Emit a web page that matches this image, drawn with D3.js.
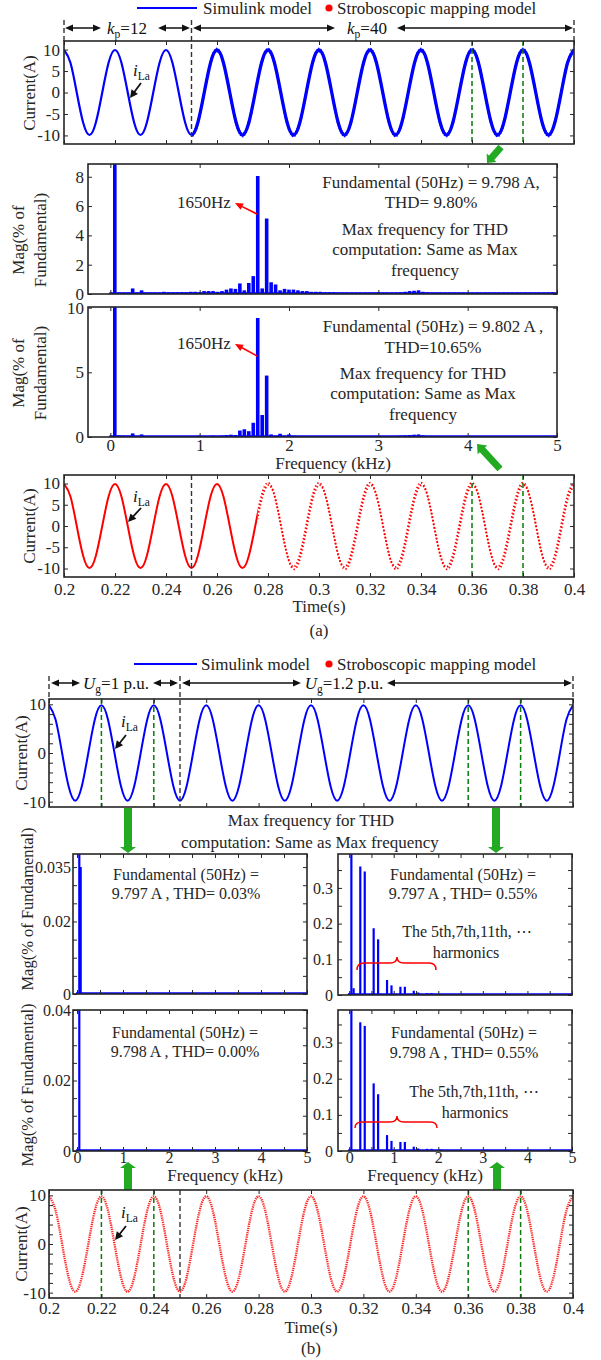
<!DOCTYPE html>
<html><head><meta charset="utf-8">
<script src="https://cdn.jsdelivr.net/npm/d3@7"></script>
<style>body{margin:0;background:#fff}svg{display:block}</style>
</head><body>
<script>
// ================= DATA =================
const timeTicks = [0.2,0.22,0.24,0.26,0.28,0.3,0.32,0.34,0.36,0.38,0.4];
const waveTime = [0.2,0.2025,0.205,0.2075,0.21,0.2125,0.215,0.2175,0.22,0.2225,0.225,0.2275,0.23,0.2325,0.235,0.2375,0.24,0.2425,0.245,0.2475,0.25,0.2525,0.255,0.2575,0.26,0.2625,0.265,0.2675,0.27,0.2725,0.275,0.2775,0.28,0.2825,0.285,0.2875,0.29,0.2925,0.295,0.2975,0.3,0.3025,0.305,0.3075,0.31,0.3125,0.315,0.3175,0.32,0.3225,0.325,0.3275,0.33,0.3325,0.335,0.3375,0.34,0.3425,0.345,0.3475,0.35,0.3525,0.355,0.3575,0.36,0.3625,0.365,0.3675,0.37,0.3725,0.375,0.3775,0.38,0.3825,0.385,0.3875,0.39,0.3925,0.395,0.3975,0.4];
const currentA = [9.9,7.0,0,-7.0,-9.9,-7.0,0,7.0, 9.9,7.0,0,-7.0,-9.9,-7.0,0,7.0, 9.9,7.0,0,-7.0,-9.9,-7.0,0,7.0, 9.9,7.0,0,-7.0,-9.9,-7.0,0,7.0, 9.9,7.0,0,-7.0,-9.9,-7.0,0,7.0, 9.9,7.0,0,-7.0,-9.9,-7.0,0,7.0, 9.9,7.0,0,-7.0,-9.9,-7.0,0,7.0, 9.9,7.0,0,-7.0,-9.9,-7.0,0,7.0, 9.9,7.0,0,-7.0,-9.9,-7.0,0,7.0, 9.9,7.0,0,-7.0,-9.9,-7.0,0,7.0, 9.9];
const currentB = [9.8,6.9,0,-6.9,-9.8,-6.9,0,6.9, 9.8,6.9,0,-6.9,-9.8,-6.9,0,6.9, 9.8,6.9,0,-6.9,-9.8,-6.9,0,6.9, 9.8,6.9,0,-6.9,-9.8,-6.9,0,6.9, 9.8,6.9,0,-6.9,-9.8,-6.9,0,6.9, 9.8,6.9,0,-6.9,-9.8,-6.9,0,6.9, 9.8,6.9,0,-6.9,-9.8,-6.9,0,6.9, 9.8,6.9,0,-6.9,-9.8,-6.9,0,6.9, 9.8,6.9,0,-6.9,-9.8,-6.9,0,6.9, 9.8,6.9,0,-6.9,-9.8,-6.9,0,6.9, 9.8];

// spectra (a): magnitude (% of fundamental) for bins 0,50,100,...,5000 Hz
const binStepHz = 50;
const specA1 = [
 0.05,100,0.10,0.10,0.10,0.38,0.10,0.25,0.10,0.10,
 0.10,0.10,0.15,0.12,0.12,0.12,0.12,0.12,0.15,0.15,
 0.12,0.20,0.20,0.20,0.15,0.20,0.30,0.38,0.35,0.72,
 0.25,0.75,1.22,8.05,0.38,5.15,0.80,0.65,0.25,0.35,
 0.30,0.30,0.25,0.20,0.20,0.15,0.15,0.15,0.12,0.12,
 0.12,0.10,0.10,0.10,0.10,0.10,0.10,0.10,0.10,0.10,
 0.12,0.10,0.10,0.10,0.10,0.12,0.15,0.20,0.22,0.25,
 0.15,0.12,0.10,0.10,0.10,0.10,0.10,0.10,0.10,0.10,
 0.10,0.10,0.10,0.10,0.10,0.10,0.10,0.10,0.10,0.10,
 0.10,0.10,0.10,0.10,0.10,0.10,0.10,0.10,0.10,0.12,0.10];
const specA2 = [
 0.03,100,0.12,0.10,0.10,0.28,0.08,0.20,0.05,0.05,
 0.05,0.05,0.05,0.05,0.05,0.05,0.05,0.05,0.05,0.05,
 0.10,0.05,0.05,0.10,0.05,0.10,0.15,0.18,0.15,0.50,
 0.60,0.45,1.10,9.20,1.70,4.75,0.20,0.10,0.25,0.10,
 0.20,0.10,0.08,0.06,0.06,0.06,0.06,0.06,0.06,0.06,
 0.06,0.06,0.06,0.06,0.06,0.06,0.06,0.06,0.06,0.06,
 0.08,0.06,0.06,0.06,0.08,0.10,0.12,0.15,0.18,0.20,
 0.12,0.08,0.06,0.06,0.06,0.06,0.06,0.06,0.06,0.06,
 0.06,0.06,0.06,0.06,0.06,0.06,0.06,0.06,0.06,0.06,
 0.06,0.06,0.06,0.06,0.06,0.06,0.06,0.06,0.06,0.08,0.06];

// spectra (b): sparse harmonic lines
const specBLeftUpFreq = [50, 80];
const specBLeftUpMag  = [100, 0.035];
const specBLeftLoFreq = [50];
const specBLeftLoMag  = [100];
const specBRightUpFreq = [0,50,100,250,350,550,650,850,950,1150,1250,1450,1550,1750,1850,2050,2150];
const specBRightUpMag  = [0.005,100,0.019,0.360,0.346,0.187,0.156,0.042,0.027,0.023,0.023,0.012,0.007,0.005,0.005,0.003,0.002];
const specBRightLoFreq = [50,250,350,550,650,850,950,1150,1250,1450,1550,1750,1850,2050,2150];
const specBRightLoMag  = [100,0.356,0.346,0.187,0.157,0.044,0.028,0.025,0.025,0.012,0.007,0.006,0.006,0.004,0.002];

const freqTicks = [0,1,2,3,4,5];
const freqTicksHalf = [0,0.5,1,1.5,2,2.5,3,3.5,4,4.5,5];

// ================= DRAWING =================
const FONT = "'Liberation Serif','Times New Roman',serif";
const INK = '#262626';
const BLUE = '#0000ff', RED = '#ff0000', DGREEN = '#0a7a0a', FGREEN = '#22aa22';
const svg = d3.select('body').append('svg').attr('width',601).attr('height',1360)
  .attr('font-family',FONT);
svg.append('rect').attr('width',601).attr('height',1360).attr('fill','#fff');
let clipN = 0;

function panel(o){
  const x = d3.scaleLinear().domain(o.xdom).range([o.x0,o.x1]);
  const y = d3.scaleLinear().domain(o.ydom).range([o.y1,o.y0]);
  const id = 'clip'+(clipN++);
  svg.append('clipPath').attr('id',id).append('rect')
    .attr('x',o.x0).attr('y',o.y0).attr('width',o.x1-o.x0).attr('height',o.y1-o.y0);
  const plot = svg.append('g').attr('clip-path',`url(#${id})`);
  return {x,y,plot,o};
}
function axes(p){
  const {x,y,o} = p;
  const g = svg.append('g');
  const mk = (axis,tr)=>{
    const a = g.append('g').attr('transform',tr).call(axis);
    a.select('.domain').remove();
    a.attr('font-family',FONT).attr('font-size',o.fs||17).attr('color',INK);
    a.selectAll('line').attr('stroke-width',1);
    return a;
  };
  mk(d3.axisBottom(x).tickValues(o.xticks).tickSize(-4).tickPadding(o.xpad||4)
      .tickFormat(d=> o.xlab ? o.xfmt(d) : ''), `translate(0,${o.y1})`);
  mk(d3.axisTop(x).tickValues(o.xticks).tickSize(-4).tickFormat(()=>''), `translate(0,${o.y0})`);
  mk(d3.axisLeft(y).tickValues(o.yticks).tickSize(-4).tickPadding(o.ypad||4)
      .tickFormat(d=> o.ylab.includes(d) ? String(d) : ''), `translate(${o.x0},0)`);
  mk(d3.axisRight(y).tickValues(o.yticks).tickSize(-4).tickFormat(()=>''), `translate(${o.x1},0)`);
  g.append('rect').attr('x',o.x0).attr('y',o.y0).attr('width',o.x1-o.x0).attr('height',o.y1-o.y0)
    .attr('fill','none').attr('stroke',INK).attr('stroke-width',1.6);
}
const tfmt = d => String(+d.toFixed(2));

function txt(x,y,s,o={}){
  return svg.append('text').attr('x',x).attr('y',y).attr('font-size',o.fs||17)
    .attr('text-anchor',o.anchor||'middle').attr('fill',o.fill||INK).text(s);
}
function rtxt(x,y,s,fs){ // rotated -90, centred at (x,y)
  return svg.append('text').attr('transform',`translate(${x},${y}) rotate(-90)`)
    .attr('dy','0.35em').attr('font-size',fs||17).attr('text-anchor','middle').attr('fill',INK).text(s);
}
function subText(x,y,main,sub,rest,fs,anchor){
  const t = svg.append('text').attr('x',x).attr('y',y).attr('font-size',fs)
    .attr('text-anchor',anchor||'middle').attr('fill','#111');
  t.append('tspan').attr('font-style','italic').text(main);
  t.append('tspan').attr('font-size',fs*0.68).attr('dy',fs*0.25).text(sub);
  if(rest) t.append('tspan').attr('dy',-fs*0.25).text(rest);
  return t;
}
function head(x1,y1,x2,y2,len,hw,color){
  const L=Math.hypot(x2-x1,y2-y1), ux=(x2-x1)/L, uy=(y2-y1)/L, nx=-uy, ny=ux;
  const bx=x2-ux*len, by=y2-uy*len;
  svg.append('polygon').attr('points',[[x2,y2],[bx+nx*hw,by+ny*hw],[bx-nx*hw,by-ny*hw]].map(p=>p.join(',')).join(' '))
    .attr('fill',color);
}
function arrow(x1,y1,x2,y2,o={}){
  const c=o.color||'#111', len=o.len||8, hw=o.hw||3.5;
  const L=Math.hypot(x2-x1,y2-y1), ux=(x2-x1)/L, uy=(y2-y1)/L;
  const sx = o.both ? x1+ux*len*0.8 : x1, sy = o.both ? y1+uy*len*0.8 : y1;
  svg.append('line').attr('x1',sx).attr('y1',sy).attr('x2',x2-ux*len*0.8).attr('y2',y2-uy*len*0.8)
    .attr('stroke',c).attr('stroke-width',o.w||1.5);
  head(x1,y1,x2,y2,len,hw,c);
  if(o.both) head(x2,y2,x1,y1,len,hw,c);
}
function fatArrow(x1,y1,x2,y2,sw,hw,hl){
  const L=Math.hypot(x2-x1,y2-y1), ux=(x2-x1)/L, uy=(y2-y1)/L, nx=-uy, ny=ux;
  const bx=x2-ux*hl, by=y2-uy*hl;
  const pts=[[x1+nx*sw/2,y1+ny*sw/2],[bx+nx*sw/2,by+ny*sw/2],[bx+nx*hw/2,by+ny*hw/2],[x2,y2],
             [bx-nx*hw/2,by-ny*hw/2],[bx-nx*sw/2,by-ny*sw/2],[x1-nx*sw/2,y1-ny*sw/2]];
  svg.append('polygon').attr('points',pts.map(p=>p.join(',')).join(' ')).attr('fill',FGREEN);
}
function vdash(x,y1,y2,color,w,da){
  svg.append('line').attr('x1',x).attr('x2',x).attr('y1',y1).attr('y2',y2)
    .attr('stroke',color).attr('stroke-width',w||1.4).attr('stroke-dasharray',da||'5,3');
}
function legend(y, lineX0, lineX1, textX){
  svg.append('line').attr('x1',lineX0).attr('x2',lineX1).attr('y1',y).attr('y2',y).attr('stroke',BLUE).attr('stroke-width',2);
  txt(textX,y+6,'Simulink model',{anchor:'start',fill:'#222'});
  svg.append('circle').attr('cx',329).attr('cy',y).attr('r',3.6).attr('fill',RED);
  txt(337,y+6,'Stroboscopic mapping model',{anchor:'start',fill:'#222'});
}
function wavePts(vals){ return waveTime.map((t,i)=>[t,vals[i]]); }
function waveLine(p, vals, t0, t1, style){
  const id='clip'+(clipN++);
  svg.append('clipPath').attr('id',id).append('rect')
    .attr('x',p.x(t0)).attr('y',p.o.y0).attr('width',p.x(t1)-p.x(t0)).attr('height',p.o.y1-p.o.y0);
  const line=d3.line().x(d=>p.x(d[0])).y(d=>p.y(d[1])).curve(d3.curveNatural);
  const g=p.plot.append('g').attr('clip-path',`url(#${id})`);
  return g.append('path').datum(wavePts(vals)).attr('d',line).attr('fill','none')
    .attr('stroke',style.color).attr('stroke-width',style.w).attr('stroke-dasharray',style.da||null)
    .attr('stroke-dashoffset',style.off||0).attr('transform',style.tr||null).attr('stroke-linecap',style.cap||'butt')
    .attr('stroke-opacity',style.op||1);
}
function specBars(p, freqsHz, mags, w){
  p.plot.selectAll(null).data(freqsHz.map((f,i)=>[f/1000,mags[i]])).join('rect')
    .attr('x',d=>p.x(d[0])-w/2).attr('width',w)
    .attr('y',d=>p.y(d[1])).attr('height',d=>Math.max(0,p.y(0)-p.y(d[1])))
    .attr('fill',BLUE);
}
function baseLine(p){
  p.plot.append('line').attr('x1',p.x(0)-1).attr('x2',p.x(5)).attr('y1',p.y(0)-0.8).attr('y2',p.y(0)-0.8)
    .attr('stroke',BLUE).attr('stroke-width',2);
}

// ================= (a) =================
legend(8,137,197,203);
vdash(64,20,41,'#333'); vdash(574,20,41,'#333');
arrow(65,28,101,28,{both:true}); arrow(158,28,190,28,{both:true});
subText(127,34,'k','p','=12',17);
arrow(193,28,335,28,{both:true}); arrow(397,28,573,28,{both:true});
subText(367,34,'k','p','=40',17);

// top waveform (a)
const pA1 = panel({x0:64,x1:574,y0:41,y1:144,xdom:[0.2,0.4],ydom:[-12,12]});
waveLine(pA1,currentA,0.2,0.25,{color:BLUE,w:2.2});
waveLine(pA1,currentA,0.25,0.4,{color:BLUE,w:3.3});
waveLine(pA1,currentA,0.25,0.4,{color:BLUE,w:1.6,da:'1.2,1.6',tr:'translate(0,-1.6)'});
waveLine(pA1,currentA,0.25,0.4,{color:BLUE,w:1.6,da:'1.2,1.6',off:1.4,tr:'translate(0,1.6)'});
vdash(pA1.x(0.25),20,144,'#333');
vdash(pA1.x(0.36),41,144,DGREEN,1.5); vdash(pA1.x(0.38),41,144,DGREEN,1.5);
axes({...pA1, o:{...pA1.o, xticks:timeTicks, xlab:false, yticks:[-10,-5,0,5,10], ylab:[-10,-5,0,5,10], ypad:4}});
rtxt(29,93,'Current(A)');
subText(133,76,'i','La','',17,'start');
arrow(141,83,130,98,{w:1.8,len:8,hw:4});

fatArrow(501,147,487,163,7,13,7);

// spectrum 1 (a)
const pA2 = panel({x0:88,x1:557,y0:164,y1:294,xdom:[-0.25,5],ydom:[0,8.87]});
specBars(pA2, specA1.map((v,i)=>i*binStepHz), specA1, 3.6);
baseLine(pA2);
axes({...pA2, o:{...pA2.o, xticks:freqTicks, xlab:false, yticks:[0,2,4,6,8], ylab:[0,2,4,6,8], ypad:4}});
rtxt(18,240,'Mag(% of'); rtxt(40,240,'Fundamental)');
txt(204,208,'1650Hz');
arrow(257,214,235,203,{color:RED,w:1.6,len:8,hw:3.5});
txt(431,188,'Fundamental (50Hz) = 9.798 A,');
txt(431,208,'THD= 9.80%');
txt(425,235,'Max frequency for THD');
txt(425,255,'computation: Same as Max');
txt(425,276,'frequency');

// spectrum 2 (a)
const pA3 = panel({x0:88,x1:557,y0:307,y1:437,xdom:[-0.25,5],ydom:[0,10.05]});
specBars(pA3, specA2.map((v,i)=>i*binStepHz), specA2, 3.6);
baseLine(pA3);
axes({...pA3, o:{...pA3.o, xticks:freqTicks, xlab:true, xfmt:d=>String(d), xpad:2, yticks:[0,5,10], ylab:[0,5,10], ypad:4}});
rtxt(18,373,'Mag(% of'); rtxt(40,373,'Fundamental)');
txt(204,349,'1650Hz');
arrow(257,356,235,344,{color:RED,w:1.6,len:8,hw:3.5});
txt(433,332,'Fundamental (50Hz) = 9.802 A ,');
txt(433,353,'THD=10.65%');
txt(423,379,'Max frequency for THD');
txt(423,399,'computation: Same as Max');
txt(423,420,'frequency');
txt(333,469,'Frequency (kHz)');

fatArrow(500,469,477,444,7,13,8);

// bottom waveform (a)
const pA4 = panel({x0:64,x1:574,y0:475,y1:577,xdom:[0.2,0.4],ydom:[-12,12]});
waveLine(pA4,currentA,0.2,0.276,{color:RED,w:2});
waveLine(pA4,currentA,0.276,0.4,{color:RED,w:1.8,da:'1.4,2.2',tr:'translate(0,-1.2)'});
waveLine(pA4,currentA,0.276,0.4,{color:RED,w:1.8,da:'1.4,2.2',off:1.8,tr:'translate(0.6,1.2)'});
vdash(pA4.x(0.25),475,577,'#333');
vdash(pA4.x(0.36),475,577,DGREEN,1.5); vdash(pA4.x(0.38),475,577,DGREEN,1.5);
axes({...pA4, o:{...pA4.o, xticks:timeTicks, xlab:true, xfmt:tfmt, xpad:6, yticks:[-10,-5,0,5,10], ylab:[-10,-5,0,5,10], ypad:4}});
rtxt(29,526,'Current(A)');
subText(133,502,'i','La','',17,'start');
arrow(141,508,128,522,{w:1.8,len:8,hw:4});
txt(319,612,'Time(s)');
txt(319,636,'(a)');

// ================= (b) =================
legend(664,134,197,201);
vdash(49,676,699,'#333'); vdash(573,676,699,'#333');
arrow(51,683,80,683,{both:true}); arrow(153,683,178,683,{both:true});
subText(116,689,'U','g','=1 p.u.',17);
arrow(182,683,301,683,{both:true}); arrow(387,683,572,683,{both:true});
subText(344,689,'U','g','=1.2 p.u.',17);

const yTicksB = [-10,-8,-6,-4,-2,0,2,4,6,8,10];
const pB1 = panel({x0:49,x1:573,y0:699,y1:807,xdom:[0.2,0.4],ydom:[-11.1,11.1]});
waveLine(pB1,currentB,0.2,0.4,{color:BLUE,w:2});
vdash(pB1.x(0.25),676,807,'#333');
[0.22,0.24,0.36,0.38].forEach(t=>vdash(pB1.x(t),699,807,DGREEN,1.5));
axes({...pB1, o:{...pB1.o, xticks:timeTicks, xlab:false, yticks:yTicksB, ylab:[-10,0,10], ypad:3}});
rtxt(21,753,'Current(A)');
subText(121,727,'i','La','',17,'start');
arrow(126,735,115,749,{w:1.8,len:8,hw:4});

fatArrow(128,808,128,853,8,16,6);
fatArrow(496,808,496,853,8,16,6);
txt(311,826,'Max frequency for THD');
txt(310,848,'computation: Same as Max frequency');

// left upper spectrum (b)
const pB2 = panel({x0:73,x1:307,y0:854,y1:994,xdom:[-0.087,5],ydom:[0,0.0386]});
specBars(pB2, specBLeftUpFreq, specBLeftUpMag, 2.2);
baseLine(pB2);
axes({...pB2, o:{...pB2.o, fs:16, xticks:freqTicksHalf, xlab:false, yticks:[0,0.005,0.01,0.015,0.02,0.025,0.03,0.035], ylab:[0,0.02,0.035], ypad:2}});
txt(186,880,'Fundamental (50Hz) =',{fs:16});
txt(186,899,'9.797 A , THD= 0.03%',{fs:16});

// right upper spectrum (b)
const pB3 = panel({x0:338,x1:572,y0:854,y1:995,xdom:[-0.25,5],ydom:[0,0.395]});
specBars(pB3, specBRightUpFreq, specBRightUpMag, 2.2);
baseLine(pB3);
axes({...pB3, o:{...pB3.o, fs:16, xticks:freqTicksHalf, xlab:false, yticks:[0,0.05,0.1,0.15,0.2,0.25,0.3,0.35], ylab:[0,0.1,0.2,0.3], ypad:5}});
txt(463,880,'Fundamental (50Hz) =',{fs:16});
txt(463,899,'9.797 A , THD= 0.55%',{fs:16});
txt(467,937,'The 5th,7th,11th, \u22ef',{fs:16});
txt(466,958,'harmonics',{fs:16});
svg.append('path').attr('d','M357,970 Q357,963 364,963 L390,963 Q397,963 397,957 Q397,963 404,963 L429,963 Q436,963 436,970')
  .attr('fill','none').attr('stroke',RED).attr('stroke-width',1.5);

// left lower spectrum (b)
const pB4 = panel({x0:73,x1:307,y0:1010,y1:1151,xdom:[-0.087,5],ydom:[0,0.04]});
specBars(pB4, specBLeftLoFreq, specBLeftLoMag, 2.2);
baseLine(pB4);
axes({...pB4, o:{...pB4.o, fs:16, xticks:freqTicksHalf, xlab:true, xfmt:d=>Number.isInteger(d)?String(d):'', xpad:0.5, yticks:[0,0.005,0.01,0.015,0.02,0.025,0.03,0.035,0.04], ylab:[0,0.02,0.04], ypad:2}});
txt(185,1038,'Fundamental (50Hz) =',{fs:16});
txt(185,1057,'9.798 A , THD= 0.00%',{fs:16});
rtxt(27,909,'Mag(% of Fundamental)',16.5);
rtxt(27,1085,'Mag(% of Fundamental)',16.5);

// right lower spectrum (b)
const pB5 = panel({x0:338,x1:572,y0:1010,y1:1151,xdom:[-0.25,5],ydom:[0,0.39]});
specBars(pB5, specBRightLoFreq, specBRightLoMag, 2.2);
baseLine(pB5);
axes({...pB5, o:{...pB5.o, fs:16, xticks:freqTicksHalf, xlab:true, xfmt:d=>Number.isInteger(d)?String(d):'', xpad:0.5, yticks:[0,0.05,0.1,0.15,0.2,0.25,0.3,0.35], ylab:[0,0.1,0.2,0.3], ypad:5}});
txt(464,1038,'Fundamental (50Hz) =',{fs:16});
txt(464,1058,'9.798 A , THD= 0.55%',{fs:16});
txt(474,1097,'The 5th,7th,11th, \u22ef',{fs:16});
txt(475,1118,'harmonics',{fs:16});
svg.append('path').attr('d','M355,1128 Q355,1122 362,1122 L390,1122 Q397,1122 397,1116 Q397,1122 404,1122 L430,1122 Q437,1122 437,1128')
  .attr('fill','none').attr('stroke',RED).attr('stroke-width',1.5);

txt(225,1181,'Frequency (kHz)');
txt(425,1181,'Frequency (kHz)');
fatArrow(128,1190,128,1162,8,16,6);
fatArrow(497,1190,497,1162,8,16,6);

// bottom waveform (b)
const pB6 = panel({x0:49,x1:573,y0:1190,y1:1298,xdom:[0.2,0.4],ydom:[-11.1,11.1]});
waveLine(pB6,currentB,0.2,0.4,{color:RED,w:2.3,da:'1.3,0.9',op:0.85});
vdash(pB6.x(0.25),1190,1298,'#333');
[0.22,0.24,0.36,0.38].forEach(t=>vdash(pB6.x(t),1190,1298,DGREEN,1.5));
axes({...pB6, o:{...pB6.o, xticks:timeTicks, xlab:true, xfmt:tfmt, xpad:3.5, yticks:yTicksB, ylab:[-10,0,10], ypad:3}});
rtxt(21,1244,'Current(A)');
subText(121,1218,'i','La','',17,'start');
arrow(126,1226,115,1240,{w:1.8,len:8,hw:4});
txt(311,1333,'Time(s)');
txt(311,1354,'(b)');
</script>
</body></html>
